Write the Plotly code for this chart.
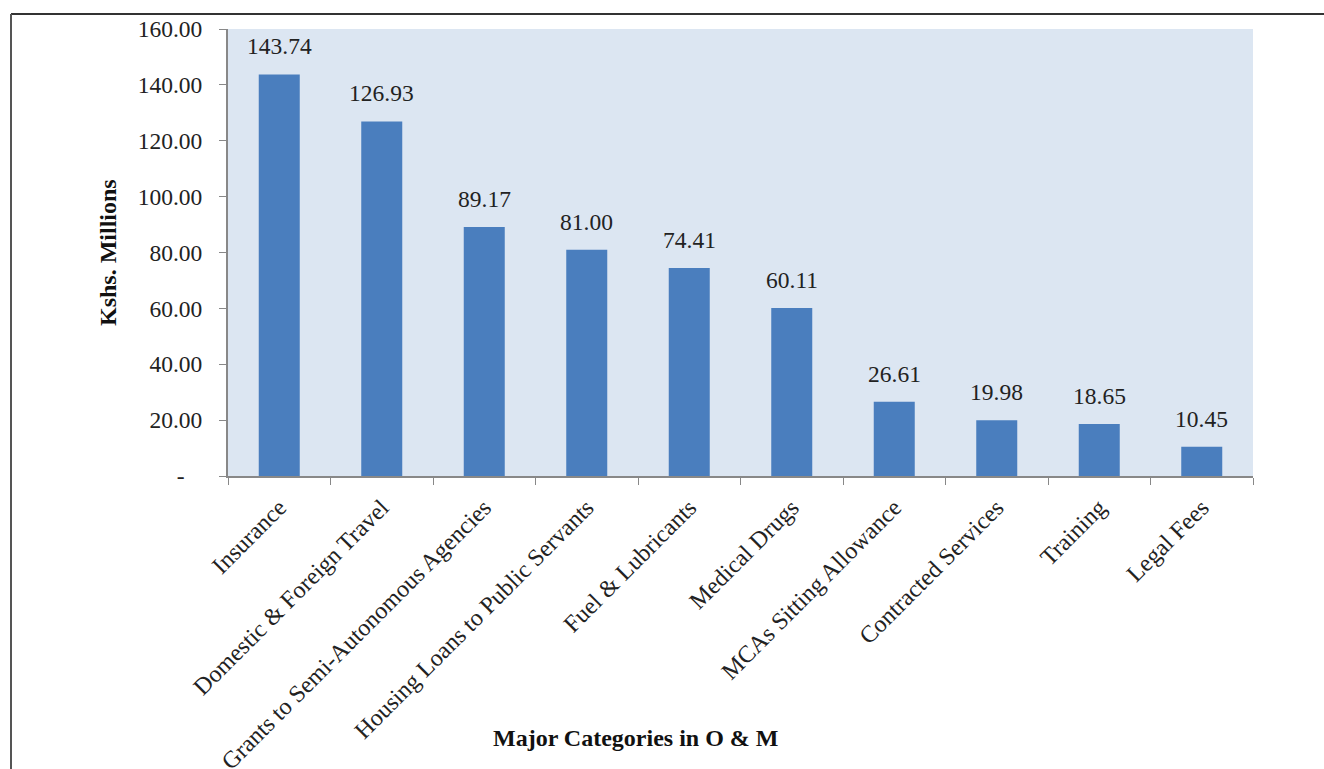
import plotly.graph_objects as go

categories = ["Insurance", "Domestic & Foreign Travel", "Grants to Semi-Autonomous Agencies",
              "Housing Loans to Public Servants", "Fuel & Lubricants", "Medical Drugs",
              "MCAs Sitting Allowance", "Contracted Services", "Training", "Legal Fees"]
values = [143.74, 126.93, 89.17, 81.00, 74.41, 60.11, 26.61, 19.98, 18.65, 10.45]
y_ticks = [0, 20, 40, 60, 80, 100, 120, 140, 160]
y_tick_labels = ["-\u00a0\u00a0\u00a0", "20.00", "40.00", "60.00", "80.00", "100.00", "120.00", "140.00", "160.00"]

FONT = "Liberation Serif"
W, H = 1324, 769
L, R, T, B = 228, 71, 29, 293
pw, ph = W - L - R, H - T - B

fig = go.Figure()
fig.add_trace(go.Bar(x=categories, y=values, width=0.4,
                     marker=dict(color="#4a7ebe", line=dict(width=0))))

for c, v in zip(categories, values):
    fig.add_annotation(x=c, y=v, text=f"{v:.2f}", showarrow=False, yanchor="bottom",
                       yshift=13, font=dict(family=FONT, size=23.5, color="#222"))

fig.add_annotation(xref="paper", yref="paper", x=(108 - L) / pw, y=(H - B - 253) / ph,
                   xanchor="center", yanchor="middle",
                   text="<b>Kshs. Millions</b>", textangle=-90, showarrow=False,
                   font=dict(family=FONT, size=24, color="#111"))
fig.add_annotation(xref="paper", yref="paper", x=(635 - L) / pw, y=-(738 - (H - B)) / ph,
                   xanchor="center", yanchor="middle",
                   text="<b>Major Categories in O & M</b>", showarrow=False,
                   font=dict(family=FONT, size=24, color="#111"))

# frame lines (top and left)
fig.add_shape(type="line", xref="paper", yref="paper",
              x0=(11 - L) / pw, x1=(W + 5 - L) / pw, y0=1 + (T - 14) / ph, y1=1 + (T - 14) / ph,
              line=dict(color="#333", width=2))
fig.add_shape(type="line", xref="paper", yref="paper",
              x0=(11 - L) / pw, x1=(11 - L) / pw, y0=1 + (T - 14) / ph, y1=-(B + 5) / ph,
              line=dict(color="#555", width=2))

fig.update_layout(
    width=W, height=H, autosize=False,
    margin=dict(l=L, r=R, t=T, b=B, autoexpand=False),
    paper_bgcolor="white", plot_bgcolor="#dce6f2",
    showlegend=False,
    font=dict(family=FONT, size=20, color="#222"),
    bargap=0.6,
)
fig.update_xaxes(type="category", tickangle=-45, tickson="boundaries", ticks="outside",
                 ticklen=7, tickcolor="#888", showline=True, linecolor="#888", linewidth=2,
                 showgrid=False, ticklabelstandoff=6, automargin=False,
                 tickfont=dict(family=FONT, size=24, color="#222"))
fig.update_yaxes(range=[0, 160], tickvals=y_ticks, ticktext=y_tick_labels, ticks="outside",
                 ticklen=7, tickcolor="#888", showline=True, linecolor="#888", linewidth=2,
                 showgrid=False, zeroline=False, ticklabelstandoff=12, automargin=False,
                 tickfont=dict(family=FONT, size=23.5, color="#222"))

fig.write_html("out.html", config={"responsive": False, "displayModeBar": False},
               post_script="document.body.style.margin='0';")
